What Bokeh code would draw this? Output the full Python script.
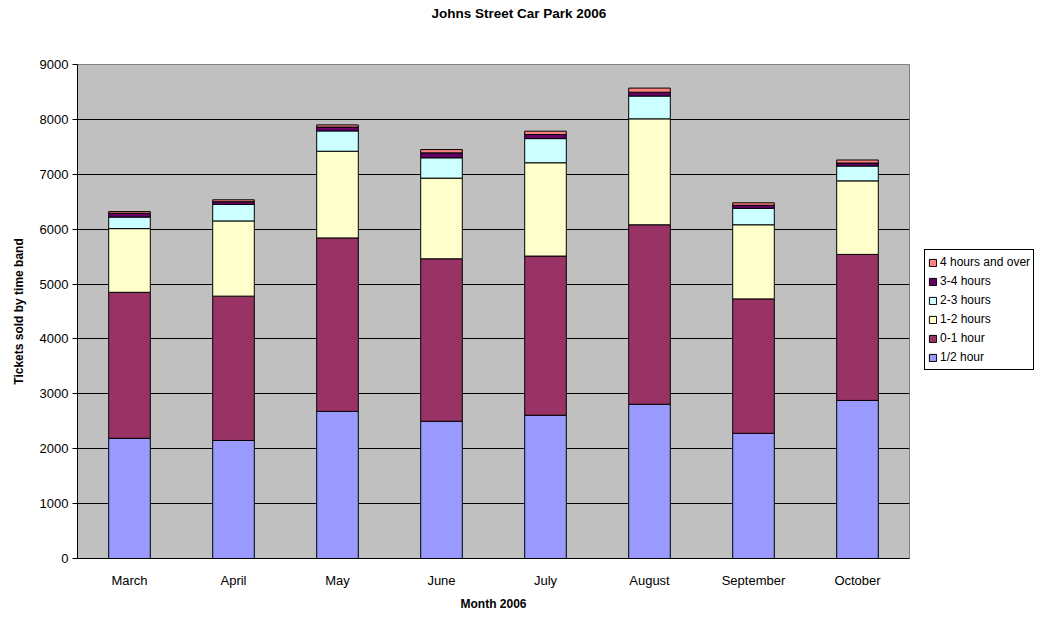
from bokeh.plotting import figure
from bokeh.layouts import row
from bokeh.models import Legend, LegendItem, FactorRange, Range1d, FixedTicker, ColumnDataSource, Title
from bokeh.embed import file_html
from bokeh.resources import INLINE

months = ["March", "April", "May", "June", "July", "August", "September", "October"]
half_hour = [2190, 2150, 2680, 2500, 2610, 2810, 2280, 2880]
zero_one = [2660, 2630, 3160, 2960, 2900, 3270, 2450, 2660]
one_two = [1160, 1370, 1580, 1470, 1700, 1930, 1350, 1340]
two_three = [210, 300, 370, 370, 440, 415, 300, 270]
three_four = [70, 50, 70, 90, 75, 70, 55, 55]
four_plus = [30, 35, 40, 60, 60, 75, 45, 55]

band_labels = ["1/2 hour", "0-1 hour", "1-2 hours", "2-3 hours", "3-4 hours", "4 hours and over"]
band_colors = ["#9999FF", "#993366", "#FFFFCC", "#CCFFFF", "#660066", "#FF8080"]
y_ticks = [0, 1000, 2000, 3000, 4000, 5000, 6000, 7000, 8000, 9000]

keys = ["b0", "b1", "b2", "b3", "b4", "b5"]
src = ColumnDataSource(dict(month=months, b0=half_hour, b1=zero_one, b2=one_two,
                            b3=two_three, b4=three_four, b5=four_plus))

FONT = "Liberation Sans"

p = figure(width=924, height=617, x_range=FactorRange(*months), y_range=Range1d(0, 9000),
           output_backend="svg", toolbar_location=None, title=None,
           min_border_left=77, min_border_right=15, min_border_top=64, min_border_bottom=59)

# spacer title (closest to frame), then the real title above it
p.add_layout(Title(text=" ", text_font_size="25px", text_color="white"), "above")
p.add_layout(Title(text="Johns Street Car Park 2006", align="left", offset=354, standoff=7,
                   text_font=FONT, text_font_size="13.5px", text_font_style="bold",
                   text_color="black"), "above")

p.background_fill_color = "#C0C0C0"
p.border_fill_color = "white"
p.outline_line_color = "#808080"
p.outline_line_width = 1

renderers = p.vbar_stack(keys, x="month", width=0.4, source=src,
                         fill_color=band_colors, line_color="black", line_width=1)

p.xgrid.grid_line_color = None
p.ygrid.grid_line_color = "black"
p.ygrid.grid_line_width = 1
p.ygrid.ticker = FixedTicker(ticks=y_ticks)

p.yaxis.ticker = FixedTicker(ticks=y_ticks)
p.yaxis.minor_tick_line_color = None
p.yaxis.major_tick_in = 0
p.yaxis.major_tick_out = 5
p.yaxis.axis_line_color = "black"
p.yaxis.major_tick_line_color = "black"
p.yaxis.major_label_text_font = FONT
p.yaxis.major_label_text_font_size = "13px"
p.yaxis.major_label_text_color = "black"
p.yaxis.major_label_standoff = 4
p.yaxis.axis_label = "Tickets sold by time band"
p.yaxis.axis_label_text_font = FONT
p.yaxis.axis_label_text_font_size = "12px"
p.yaxis.axis_label_text_font_style = "bold"
p.yaxis.axis_label_text_color = "black"
p.yaxis.axis_label_standoff = 11

p.xaxis.axis_line_color = "black"
p.xaxis.major_tick_line_color = None
p.xaxis.minor_tick_line_color = None
p.xaxis.major_label_text_font = FONT
p.xaxis.major_label_text_font_size = "13px"
p.xaxis.major_label_text_color = "black"
p.xaxis.major_label_standoff = 8
p.xaxis.axis_label = "Month 2006"
p.xaxis.axis_label_text_font = FONT
p.xaxis.axis_label_text_font_size = "12px"
p.xaxis.axis_label_text_font_style = "bold"
p.xaxis.axis_label_text_color = "black"
p.xaxis.axis_label_standoff = 6

# legend in a narrow companion figure to the right
q = figure(width=114, height=617, x_range=(0, 1), y_range=(0, 1),
           output_backend="svg", toolbar_location=None, min_border=0)
q.axis.visible = False
q.grid.grid_line_color = None
q.outline_line_color = None
q.background_fill_color = "white"
q.border_fill_color = "white"

# proxy renderers (placed outside the visible range) that only supply legend swatches
proxy = ColumnDataSource(dict(x=[5], top=[5]))
legend_renderers = [q.vbar(x="x", top="top", width=0.1, source=proxy,
                           fill_color=c, line_color="black") for c in band_colors]
items = [LegendItem(label=l, renderers=[r]) for l, r in zip(band_labels, legend_renderers)][::-1]
legend = Legend(items=items, location=(0, 188))
legend.label_text_font = FONT
legend.label_text_font_size = "12px"
legend.label_text_color = "black"
legend.label_height = 18
legend.glyph_height = 9
legend.glyph_width = 9
legend.spacing = 1
legend.padding = 3
legend.margin = 0
legend.label_standoff = 3
legend.border_line_color = "black"
legend.border_line_alpha = 1
legend.border_line_width = 1
legend.background_fill_color = "white"
legend.background_fill_alpha = 1
q.add_layout(legend)

layout = row(p, q, spacing=0)
open("out.html", "w").write(file_html(layout, INLINE))
